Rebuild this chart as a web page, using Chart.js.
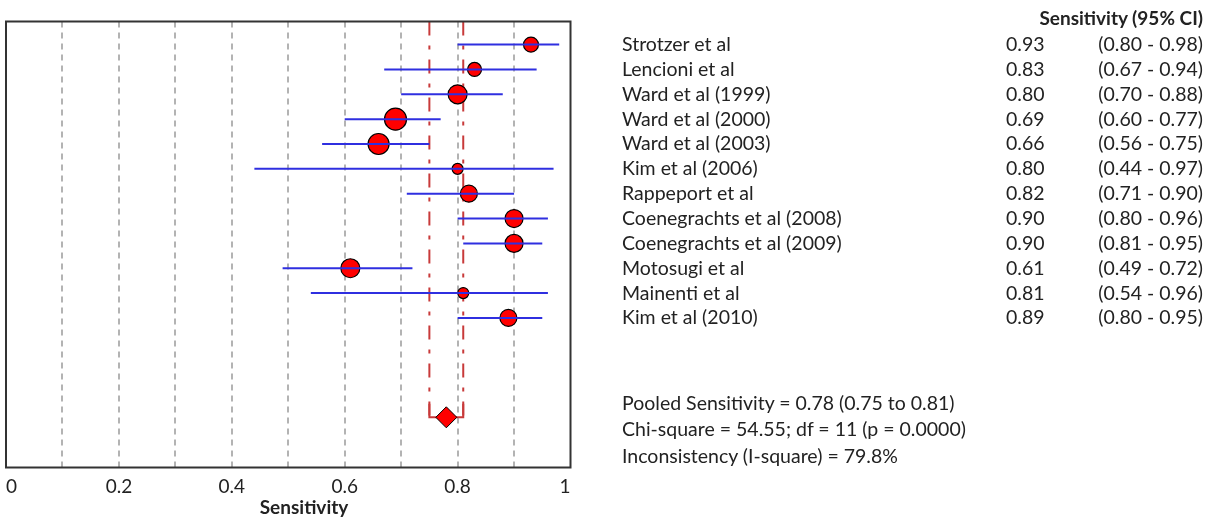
<!DOCTYPE html>
<html>
<head>
<meta charset="utf-8">
<title>Sensitivity forest plot</title>
<script src="https://cdn.jsdelivr.net/npm/chart.js@4.4.0/dist/chart.umd.min.js"></script>
<style>
  body { margin: 0; background: #fff; }
  #wrap { position: relative; width: 1219px; height: 519px; font-family: Lato, sans-serif; color: #222; font-size: 19.5px; }
  #forest { position: absolute; left: 0; top: 0; }
  .row { position: absolute; left: 622px; width: 581px; height: 26px; line-height: 26px; white-space: nowrap; }
  .row .val { position: absolute; left: 384px; }
  .row .ci { position: absolute; right: 0; }
  .head { font-weight: bold; text-align: right; font-size: 19px; }
  #xtitle { position: absolute; top: 495px; left: 304px; transform: translateX(-50%); font-weight: bold; font-size: 19px; }
</style>
</head>
<body>
<div id="wrap">
  <canvas id="forest" width="1219" height="519"></canvas>
  <div id="xtitle">Sensitivity</div>
</div>
<script>
const studies = ['Strotzer et al', 'Lencioni et al', 'Ward et al (1999)', 'Ward et al (2000)',
  'Ward et al (2003)', 'Kim et al (2006)', 'Rappeport et al', 'Coenegrachts et al (2008)',
  'Coenegrachts et al (2009)', 'Motosugi et al', 'Mainenti et al', 'Kim et al (2010)'];
const sens   = [0.93, 0.83, 0.80, 0.69, 0.66, 0.80, 0.82, 0.90, 0.90, 0.61, 0.81, 0.89];
const ciLow  = [0.80, 0.67, 0.70, 0.60, 0.56, 0.44, 0.71, 0.80, 0.81, 0.49, 0.54, 0.80];
const ciHigh = [0.98, 0.94, 0.88, 0.77, 0.75, 0.97, 0.90, 0.96, 0.95, 0.72, 0.96, 0.95];

// pooled estimate and heterogeneity stats
const pooled = 0.78, pooledLow = 0.75, pooledHigh = 0.81;
const chiSquare = 54.55, df = 11, pValue = '0.0000', iSquare = 79.8;

const xTicks = [0, 0.2, 0.4, 0.6, 0.8, 1];

// marker size per study (study weight)
const markerRadius = [7.5, 7, 9.5, 11, 10.5, 5.5, 8.5, 9, 9, 9.5, 5.5, 8.5];

const pooledRow = studies.length + 3;
const yTop = -0.93, yBottom = 17.02;

const RED = '#ff0000';
const BLUE = '#2f2fe0';
const DARKRED = '#c83a3a';

const datasets = [];

datasets.push({
  label: 'Pooled',
  data: [{ x: pooled, y: pooledRow }],
  pointStyle: 'rectRot',
  pointRadius: 10.5,
  backgroundColor: RED,
  borderColor: '#000',
  borderWidth: 1,
  order: 0
});

studies.forEach(function (name, i) {
  datasets.push({
    label: name + ' CI',
    data: [{ x: ciLow[i], y: i }, { x: ciHigh[i], y: i }],
    showLine: true,
    borderColor: BLUE,
    borderWidth: 2,
    pointRadius: 0,
    order: 1
  });
});

datasets.push({
  label: 'Studies',
  data: sens.map(function (v, i) { return { x: v, y: i }; }),
  pointRadius: markerRadius,
  backgroundColor: RED,
  borderColor: '#000',
  borderWidth: 1.2,
  order: 2
});

// bracket under the pooled interval
datasets.push({
  label: 'Pooled bracket',
  data: [{ x: pooledLow, y: pooledRow - 0.55 }, { x: pooledLow, y: pooledRow },
         { x: pooledHigh, y: pooledRow }, { x: pooledHigh, y: pooledRow - 0.55 }],
  showLine: true,
  borderColor: DARKRED,
  borderWidth: 2,
  pointRadius: 0,
  order: 3
});

[pooledLow, pooledHigh].forEach(function (v) {
  datasets.push({
    label: 'Pooled limit',
    data: [{ x: v, y: yTop }, { x: v, y: pooledRow }],
    showLine: true,
    borderColor: DARKRED,
    borderWidth: 2,
    borderDash: [14, 10, 4, 10],
    pointRadius: 0,
    order: 4
  });
});

const framePlugin = {
  id: 'frame',
  afterDraw(chart) {
    const a = chart.chartArea, ctx = chart.ctx;
    ctx.save();
    ctx.strokeStyle = '#333';
    ctx.lineWidth = 2;
    ctx.strokeRect(a.left, a.top, a.right - a.left, a.bottom - a.top);
    ctx.restore();
  }
};

const chart = new Chart(document.getElementById('forest').getContext('2d'), {
  type: 'scatter',
  data: { datasets: datasets },
  plugins: [framePlugin],
  options: {
    responsive: false,
    animation: false,
    // no extra room for the big markers, the frame sits near the edge
    layout: { autoPadding: false, padding: { left: 6, top: 21.5, right: 648.5, bottom: 0 } },
    plugins: { legend: { display: false }, tooltip: { enabled: false } },
    scales: {
      x: {
        min: 0,
        max: 1,
        afterFit(scale) { scale.height = 51.5; },
        ticks: {
          stepSize: 0.1,
          padding: 0,
          align: 'inner',
          color: '#222',
          font: { family: 'Lato', size: 19 },
          callback: function (v) {
            const t = Math.round(v * 10) / 10;
            return xTicks.indexOf(t) >= 0 ? String(t) : '';
          }
        },
        grid: {
          // invisible tick marks keep the labels off the frame
          drawTicks: true,
          tickLength: 8,
          tickColor: 'rgba(0,0,0,0)',
          lineWidth: 2,
          color: function (ctx) {
            const v = ctx.tick ? ctx.tick.value : 0;
            return (v <= 0.001 || v >= 0.999) ? 'rgba(0,0,0,0)' : '#b3b3b3';
          }
        },
        border: { display: false, dash: [6, 5] }
      },
      y: {
        display: false,
        reverse: true,
        min: yTop,
        max: yBottom
      }
    }
  }
});

// study table to the right of the plot, rows follow the plot rows
const wrap = document.getElementById('wrap');
const yScale = chart.scales.y;

function addRow(top, name, val, ci, cls) {
  const row = document.createElement('div');
  row.className = 'row' + (cls ? ' ' + cls : '');
  row.style.top = top + 'px';
  if (cls === 'head') {
    row.textContent = name;
  } else {
    const n = document.createElement('span');
    n.textContent = name;
    row.appendChild(n);
    if (val !== null) {
      const s = document.createElement('span');
      s.className = 'val';
      s.textContent = val;
      row.appendChild(s);
      const c = document.createElement('span');
      c.className = 'ci';
      c.textContent = ci;
      row.appendChild(c);
    }
  }
  wrap.appendChild(row);
}

addRow(5, 'Sensitivity (95% CI)', null, null, 'head');
studies.forEach(function (name, i) {
  addRow(yScale.getPixelForValue(i) - 13.5, name, sens[i].toFixed(2),
    '(' + ciLow[i].toFixed(2) + ' - ' + ciHigh[i].toFixed(2) + ')');
});

const summary = [
  'Pooled Sensitivity = ' + pooled.toFixed(2) + ' (' + pooledLow.toFixed(2) + ' to ' + pooledHigh.toFixed(2) + ')',
  'Chi-square = ' + chiSquare.toFixed(2) + '; df = ' + df + ' (p = ' + pValue + ')',
  'Inconsistency (I-square) = ' + iSquare.toFixed(1) + '%'
];
summary.forEach(function (line, i) {
  addRow(389.5 + i * 26.5, line, null, null);
});
</script>
</body>
</html>
